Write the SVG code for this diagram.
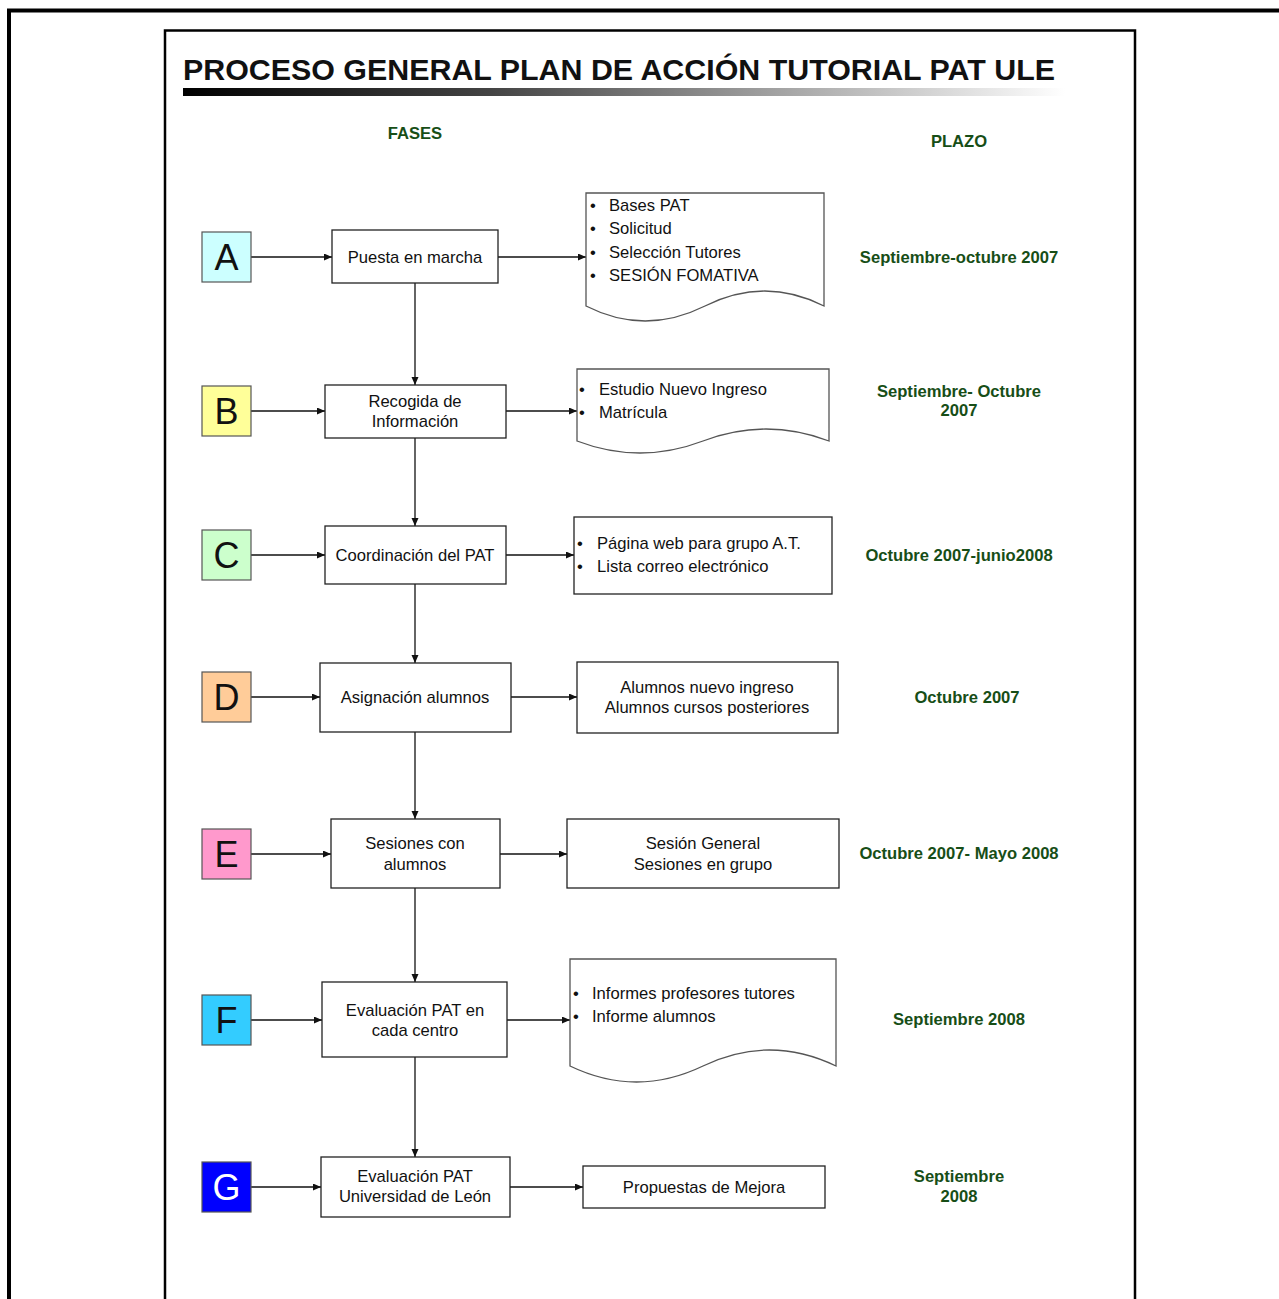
<svg xmlns="http://www.w3.org/2000/svg" width="1279" height="1299" viewBox="0 0 1279 1299">
<style>
text{font-family:"Liberation Sans",Arial,sans-serif;fill:#111}
.t{font-size:16.6px}
.c{text-anchor:middle}
.h{font-size:16.6px;font-weight:bold;fill:#174e17;text-anchor:middle}
.box{fill:#fff;stroke:#222;stroke-width:1.3}
.doc{fill:#fff;stroke:#555;stroke-width:1.3}
.let{stroke:#555;stroke-width:1.2}
.L{font-size:36px;text-anchor:middle}
.conn line{stroke:#111;stroke-width:1.3;marker-end:url(#ah)}
</style>
<defs>
<marker id="ah" markerWidth="9" markerHeight="8" refX="8" refY="3.5" orient="auto" markerUnits="userSpaceOnUse">
<path d="M0,0 L8,3.5 L0,7 z" fill="#111"/>
</marker>
<linearGradient id="bar" x1="0" y1="0" x2="1" y2="0">
<stop offset="0" stop-color="#000"/>
<stop offset="0.35" stop-color="#444"/>
<stop offset="0.7" stop-color="#aaa"/>
<stop offset="1" stop-color="#fff"/>
</linearGradient>
</defs>
<rect width="1279" height="1299" fill="#fff"/>
<path d="M9,1299 V10.5 H1279" fill="none" stroke="#000" stroke-width="4"/>
<path d="M165,1299 V30.5 H1135 V1299" fill="none" stroke="#000" stroke-width="2.5"/>
<g id="title">
<text x="183" y="80" font-size="30" font-weight="bold" textLength="872" lengthAdjust="spacingAndGlyphs">PROCESO GENERAL PLAN DE ACCIÓN TUTORIAL PAT ULE</text>
<rect x="183" y="88" width="882" height="8" fill="url(#bar)"/>
</g>
<text class="h" x="415" y="138.8">FASES</text>
<text class="h" x="959" y="146.8">PLAZO</text>

<g class="conn" id="connectors">
<line x1="251" y1="257" x2="332" y2="257"/>
<line x1="498" y1="257" x2="586" y2="257"/>
<line x1="415" y1="283" x2="415" y2="385"/>
<line x1="251" y1="411" x2="325" y2="411"/>
<line x1="506" y1="411" x2="577" y2="411"/>
<line x1="415" y1="438" x2="415" y2="526"/>
<line x1="251" y1="555" x2="325" y2="555"/>
<line x1="506" y1="555" x2="574" y2="555"/>
<line x1="415" y1="584" x2="415" y2="663"/>
<line x1="251" y1="697" x2="320" y2="697"/>
<line x1="511" y1="697" x2="577" y2="697"/>
<line x1="415" y1="732" x2="415" y2="819"/>
<line x1="251" y1="854" x2="331" y2="854"/>
<line x1="500" y1="854" x2="567" y2="854"/>
<line x1="415" y1="888" x2="415" y2="982"/>
<line x1="251" y1="1020" x2="322" y2="1020"/>
<line x1="507" y1="1020" x2="570" y2="1020"/>
<line x1="415" y1="1057" x2="415" y2="1157"/>
<line x1="251" y1="1187" x2="321" y2="1187"/>
<line x1="510" y1="1187" x2="583" y2="1187"/>
</g>

<g id="letterA"><rect class="let" x="202" y="232" width="49" height="50" fill="#ccffff"/><text class="L" x="226.5" y="269.5">A</text></g>
<g id="letterB"><rect class="let" x="202" y="386" width="49" height="50" fill="#ffff99"/><text class="L" x="226.5" y="423.5">B</text></g>
<g id="letterC"><rect class="let" x="202" y="530" width="49" height="50" fill="#ccffcc"/><text class="L" x="226.5" y="567.5">C</text></g>
<g id="letterD"><rect class="let" x="202" y="672" width="49" height="50" fill="#ffcc99"/><text class="L" x="226.5" y="709.5">D</text></g>
<g id="letterE"><rect class="let" x="202" y="829" width="49" height="50" fill="#ff99cc"/><text class="L" x="226.5" y="866.5">E</text></g>
<g id="letterF"><rect class="let" x="202" y="995" width="49" height="50" fill="#33ccff"/><text class="L" x="226.5" y="1032.5">F</text></g>
<g id="letterG"><rect class="let" x="202" y="1162" width="49" height="50" fill="#0000ff"/><text class="L" x="226.5" y="1199.5" style="fill:#fff">G</text></g>

<g id="procA"><rect class="box" x="332" y="230" width="166" height="53"/><text class="t c" x="415" y="262.8">Puesta en marcha</text></g>
<g id="procB"><rect class="box" x="325" y="385" width="181" height="53"/><text class="t c" x="415" y="406.8">Recogida de</text><text class="t c" x="415" y="426.8">Información</text></g>
<g id="procC"><rect class="box" x="325" y="526" width="181" height="58"/><text class="t c" x="415" y="560.8">Coordinación del PAT</text></g>
<g id="procD"><rect class="box" x="320" y="663" width="191" height="69"/><text class="t c" x="415" y="702.8">Asignación alumnos</text></g>
<g id="procE"><rect class="box" x="331" y="819" width="169" height="69"/><text class="t c" x="415" y="848.8">Sesiones con</text><text class="t c" x="415" y="869.8">alumnos</text></g>
<g id="procF"><rect class="box" x="322" y="982" width="185" height="75"/><text class="t c" x="415" y="1015.8">Evaluación PAT en</text><text class="t c" x="415" y="1035.8">cada centro</text></g>
<g id="procG"><rect class="box" x="321" y="1157" width="189" height="60"/><text class="t c" x="415" y="1181.8">Evaluación PAT</text><text class="t c" x="415" y="1201.8">Universidad de León</text></g>

<g id="docA"><path class="doc" d="M586,306 V193 H824 V306 Q765,276 705,306 T586,306 Z"/>
<text class="t" x="590" y="210.8">•</text><text class="t" x="609" y="210.8">Bases PAT</text>
<text class="t" x="590" y="233.8">•</text><text class="t" x="609" y="233.8">Solicitud</text>
<text class="t" x="590" y="257.8">•</text><text class="t" x="609" y="257.8">Selección Tutores</text>
<text class="t" x="590" y="280.8">•</text><text class="t" x="609" y="280.8">SESIÓN FOMATIVA</text></g>

<g id="docB"><path class="doc" d="M577,441 V369 H829 V441 Q766,417 703,441 Q640,465 577,441 Z"/>
<text class="t" x="579" y="394.8">•</text><text class="t" x="599" y="394.8">Estudio Nuevo Ingreso</text>
<text class="t" x="579" y="417.8">•</text><text class="t" x="599" y="417.8">Matrícula</text></g>

<g id="outC"><rect class="box" x="574" y="517" width="258" height="77"/>
<text class="t" x="577" y="548.8">•</text><text class="t" x="597" y="548.8">Página web para grupo A.T.</text>
<text class="t" x="577" y="571.8">•</text><text class="t" x="597" y="571.8">Lista correo electrónico</text></g>

<g id="outD"><rect class="box" x="577" y="662" width="261" height="71"/>
<text class="t c" x="707" y="692.8">Alumnos nuevo ingreso</text><text class="t c" x="707" y="712.8">Alumnos cursos posteriores</text></g>

<g id="outE"><rect class="box" x="567" y="819" width="272" height="69"/>
<text class="t c" x="703" y="848.8">Sesión General</text><text class="t c" x="703" y="869.8">Sesiones en grupo</text></g>

<g id="docF"><path class="doc" d="M570,1066 V959 H836 V1066 Q769.5,1034 703,1066 Q636.5,1098 570,1066 Z"/>
<text class="t" x="573" y="998.8">•</text><text class="t" x="592" y="998.8">Informes profesores tutores</text>
<text class="t" x="573" y="1021.8">•</text><text class="t" x="592" y="1021.8">Informe alumnos</text></g>

<g id="outG"><rect class="box" x="583" y="1166" width="242" height="42"/>
<text class="t c" x="704" y="1192.8">Propuestas de Mejora</text></g>

<g id="plazo">
<text class="h" x="959" y="262.8">Septiembre-octubre 2007</text>
<text class="h" x="959" y="396.8">Septiembre- Octubre</text>
<text class="h" x="959" y="415.8">2007</text>
<text class="h" x="959" y="560.8">Octubre 2007-junio2008</text>
<text class="h" x="967" y="702.8">Octubre 2007</text>
<text class="h" x="959" y="858.8">Octubre 2007- Mayo 2008</text>
<text class="h" x="959" y="1024.8">Septiembre 2008</text>
<text class="h" x="959" y="1181.8">Septiembre</text>
<text class="h" x="959" y="1201.8">2008</text>
</g>
</svg>
